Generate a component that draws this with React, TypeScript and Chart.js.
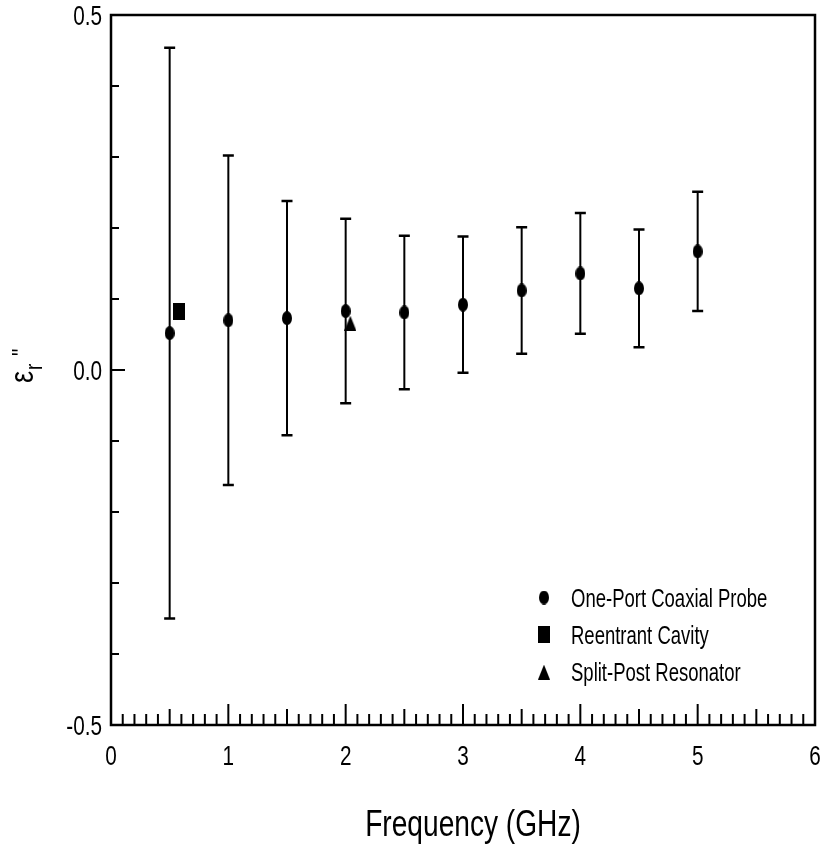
import React, { useEffect, useRef } from "react";
import { Chart, registerables } from "chart.js";

Chart.register(...registerables);

// ---- data ----
const frequencies = [0.5, 1, 1.5, 2, 2.5, 3, 3.5, 4, 4.5, 5];
const coaxialValues = [0.052, 0.07, 0.073, 0.083, 0.081, 0.092, 0.112, 0.136, 0.115, 0.167];
const coaxialErrors = [0.402, 0.232, 0.165, 0.13, 0.108, 0.096, 0.089, 0.085, 0.083, 0.084];
const cavityFrequencies = [0.58];
const cavityValues = [0.082];
const splitPostFrequencies = [2.04];
const splitPostValues = [0.066];
const seriesLabels = ["One-Port Coaxial Probe", "Reentrant Cavity", "Split-Post Resonator"];
const xTickLabels = ["0", "1", "2", "3", "4", "5", "6"];
const yTickLabels = ["-0.5", "0.0", "0.5"];
const xTitle = "Frequency (GHz)";

const FONT = '"Liberation Sans", Arial, "Helvetica", sans-serif';
const NARROW = 0.74; // horizontal compression to imitate a narrow face

function makeMarker(shape: string, w: number, h: number): HTMLCanvasElement {
  const c = document.createElement("canvas");
  c.width = w;
  c.height = h;
  const ctx = c.getContext("2d")!;
  ctx.fillStyle = "#000";
  ctx.beginPath();
  if (shape === "ellipse") {
    ctx.ellipse(w / 2, h / 2, w / 2, h / 2, 0, 0, Math.PI * 2);
  } else if (shape === "rect") {
    ctx.rect(0, 0, w, h);
  } else {
    ctx.moveTo(w / 2, 0);
    ctx.lineTo(w, h);
    ctx.lineTo(0, h);
    ctx.closePath();
  }
  ctx.fill();
  return c;
}

function drawText(
  ctx: CanvasRenderingContext2D,
  text: string,
  x: number,
  y: number,
  size: number,
  align: CanvasTextAlign,
  sx: number = NARROW
) {
  ctx.save();
  ctx.font = `${size}px ${FONT}`;
  ctx.textAlign = align;
  ctx.textBaseline = "alphabetic";
  ctx.fillStyle = "#000";
  ctx.translate(x, y);
  ctx.scale(sx, 1);
  ctx.fillText(text, 0, 0);
  ctx.restore();
}

export default function App() {
  const ref = useRef<HTMLCanvasElement | null>(null);

  useEffect(() => {
    if (!ref.current) return;
    const ellipse = makeMarker("ellipse", 10, 14);
    const square = makeMarker("rect", 12, 17);
    const triangle = makeMarker("triangle", 12, 15);
    const markers = [ellipse, square, triangle];

    const isMultiple = (v: number, step: number) => Math.abs(v / step - Math.round(v / step)) < 1e-6;

    const decorPlugin = {
      id: "decor",
      beforeDatasetsDraw(chart: any) {
        const ctx = chart.ctx;
        const xs = chart.scales.x;
        const ys = chart.scales.y;
        ctx.save();
        ctx.strokeStyle = "#000";
        frequencies.forEach((f, i) => {
          const px = xs.getPixelForValue(f);
          const pTop = ys.getPixelForValue(coaxialValues[i] + coaxialErrors[i]);
          const pBot = ys.getPixelForValue(coaxialValues[i] - coaxialErrors[i]);
          ctx.lineWidth = 2;
          ctx.beginPath();
          ctx.moveTo(px, pTop);
          ctx.lineTo(px, pBot);
          ctx.stroke();
          ctx.lineWidth = 2.5;
          ctx.beginPath();
          ctx.moveTo(px - 5.5, pTop);
          ctx.lineTo(px + 5.5, pTop);
          ctx.moveTo(px - 5.5, pBot);
          ctx.lineTo(px + 5.5, pBot);
          ctx.stroke();
        });
        ctx.restore();
      },
      afterDraw(chart: any) {
        const ctx = chart.ctx;
        const area = chart.chartArea;
        const xs = chart.scales.x;
        const ys = chart.scales.y;
        ctx.save();
        ctx.strokeStyle = "#000";
        // frame
        ctx.lineWidth = 2.5;
        ctx.strokeRect(area.left, area.top, area.right - area.left, area.bottom - area.top);
        // tick marks (inward)
        ctx.lineWidth = 2;
        ctx.beginPath();
        xs.ticks.forEach((t: any) => {
          const px = xs.getPixelForValue(t.value);
          const len = isMultiple(t.value, 1) ? 21 : isMultiple(t.value, 0.5) ? 16 : 11;
          ctx.moveTo(px, area.bottom);
          ctx.lineTo(px, area.bottom - len);
        });
        ys.ticks.forEach((t: any) => {
          const py = ys.getPixelForValue(t.value);
          const len = isMultiple(t.value, 0.5) ? 14 : 8;
          ctx.moveTo(area.left, py);
          ctx.lineTo(area.left + len, py);
        });
        ctx.stroke();
        ctx.restore();

        // tick labels (labels generated by the scales' tick callbacks)
        xs.ticks.forEach((t: any) => {
          if (!t.label) return;
          drawText(ctx, String(t.label), xs.getPixelForValue(t.value), area.bottom + 40, 28, "center");
        });
        ys.ticks.forEach((t: any) => {
          if (!t.label) return;
          drawText(ctx, String(t.label), area.left - 9, ys.getPixelForValue(t.value) + 10, 28, "right");
        });

        // x-axis title
        drawText(ctx, xTitle, (area.left + area.right) / 2 + 10, 836, 37, "center", 0.76);

        // y-axis title: epsilon_r''
        ctx.save();
        ctx.fillStyle = "#000";
        ctx.translate(33, 383);
        ctx.rotate(-Math.PI / 2);
        drawText(ctx, "\u03b5", 0, 0, 34, "left", 0.8);
        drawText(ctx, "r", 13, 9, 24, "left", 0.8);
        drawText(ctx, '"', 27, -3.5, 26, "left", 0.8);
        ctx.restore();

        // legend
        const legendX = 544;
        const legendY0 = 597.5;
        const legendStep = 37.3;
        seriesLabels.forEach((label, i) => {
          const m = markers[i];
          const cy = legendY0 + i * legendStep;
          ctx.drawImage(m, legendX - m.width / 2, cy - m.height / 2);
          drawText(ctx, label, 571, cy + 9, 25, "left");
        });
      },
    };

    const chart = new Chart(ref.current, {
      type: "scatter",
      data: {
        datasets: [
          {
            label: seriesLabels[0],
            data: frequencies.map((x, i) => ({ x, y: coaxialValues[i] })),
            pointStyle: ellipse as any,
            pointRadius: 7,
            backgroundColor: "#000",
            borderColor: "#000",
          },
          {
            label: seriesLabels[1],
            data: cavityFrequencies.map((x, i) => ({ x, y: cavityValues[i] })),
            pointStyle: square as any,
            pointRadius: 8,
            backgroundColor: "#000",
            borderColor: "#000",
          },
          {
            label: seriesLabels[2],
            data: splitPostFrequencies.map((x, i) => ({ x, y: splitPostValues[i] })),
            pointStyle: triangle as any,
            pointRadius: 8,
            backgroundColor: "#000",
            borderColor: "#000",
          },
        ],
      },
      options: {
        responsive: false,
        animation: false,
        devicePixelRatio: 1,
        layout: { padding: { left: 0, top: 15, right: 6, bottom: 0 } },
        plugins: { legend: { display: false }, tooltip: { enabled: false } },
        scales: {
          x: {
            type: "linear",
            min: 0,
            max: 6,
            grid: { display: false },
            border: { display: false },
            ticks: {
              display: false,
              stepSize: 0.1,
              autoSkip: false,
              callback: (v: any) => (isMultiple(Number(v), 1) ? xTickLabels[Math.round(Number(v))] : ""),
            },
            title: { display: false, text: xTitle },
            afterFit: (s: any) => {
              s.height = 125;
            },
          },
          y: {
            type: "linear",
            min: -0.5,
            max: 0.5,
            grid: { display: false },
            border: { display: false },
            ticks: {
              display: false,
              stepSize: 0.1,
              autoSkip: false,
              callback: (v: any) => {
                const n = Number(v);
                return isMultiple(n, 0.5) ? yTickLabels[Math.round(n * 2) + 1] : "";
              },
            },
            afterFit: (s: any) => {
              s.width = 111;
            },
          },
        },
      },
      plugins: [decorPlugin],
    } as any);

    return () => chart.destroy();
  }, []);

  return (
    <div style={{ position: "absolute", left: 0, top: 0, width: 824, height: 850, background: "#fff" }}>
      <canvas ref={ref} width={824} height={850} style={{ display: "block" }} />
    </div>
  );
}
